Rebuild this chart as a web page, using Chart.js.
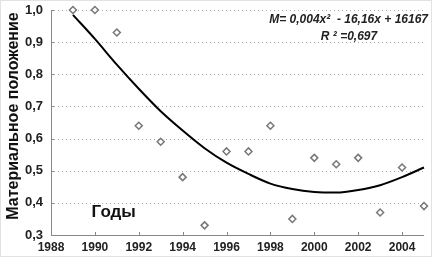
<!DOCTYPE html>
<html>
<head>
<meta charset="utf-8">
<script src="https://cdn.jsdelivr.net/npm/chart.js@4/dist/chart.umd.min.js"></script>
<style>
  html, body { margin: 0; padding: 0; background: #fff; }
  #wrap { width: 430px; height: 255px; border: 1px solid #e2e2e2; }
</style>
</head>
<body>
<div id="wrap"><canvas id="chart" width="430" height="255"></canvas></div>
<script>
// observed values
const years = [1989, 1990, 1991, 1992, 1993, 1994, 1995, 1996, 1997, 1998, 1999, 2000, 2001, 2002, 2003, 2004, 2005];
const values = [1.0, 1.0, 0.93, 0.64, 0.59, 0.48, 0.33, 0.56, 0.56, 0.64, 0.35, 0.54, 0.52, 0.54, 0.37, 0.51, 0.39];
// trend curve
const trendValues = [0.985, 0.91, 0.83, 0.755, 0.685, 0.625, 0.57, 0.525, 0.49, 0.46, 0.443, 0.434, 0.432, 0.44, 0.455, 0.48, 0.51];
const yearTicks = [1988, 1990, 1992, 1994, 1996, 1998, 2000, 2002, 2004];

const eqLine1 = "M= 0,004x\u00B2  - 16,16x + 16167";
const eqLine2 = "R \u00B2 =0,697";
const xLabel = "Годы";
const yLabel = "Материальное положение";

const FONT = "'Liberation Sans', Arial, sans-serif";

// dotted horizontal grid under the marks
const gridPlugin = {
    id: 'dotgrid',
    beforeDatasetsDraw(chart) {
        const ctx = chart.ctx;
        const ys = chart.scales.y;
        const area = chart.chartArea;
        ctx.save();
        ctx.strokeStyle = '#aaa';
        ctx.lineWidth = 1;
        ctx.setLineDash([1, 3]);
        ctx.beginPath();
        ys.ticks.forEach(t => {
            let py = Math.round(ys.getPixelForValue(t.value)) + 0.5;
            ctx.moveTo(area.left + 3, py);
            ctx.lineTo(area.right, py);
        });
        ctx.stroke();
        ctx.restore();
    }
};

// axis lines, inner tick marks and the text notes
const decorPlugin = {
    id: 'decor',
    afterDraw(chart) {
        const ctx = chart.ctx;
        const xs = chart.scales.x, ys = chart.scales.y;
        const area = chart.chartArea;
        ctx.save();
        ctx.strokeStyle = '#888';
        ctx.lineWidth = 1;
        ctx.beginPath();
        ctx.moveTo(area.left + 0.5, area.top);
        ctx.lineTo(area.left + 0.5, area.bottom + 0.5);
        ctx.lineTo(area.right, area.bottom + 0.5);
        ctx.stroke();
        ctx.beginPath();
        yearTicks.forEach(t => {
            let px = Math.round(xs.getPixelForValue(t)) + 0.5;
            ctx.moveTo(px, area.bottom);
            ctx.lineTo(px, area.bottom - 3);
        });
        ys.ticks.forEach(t => {
            let py = Math.round(ys.getPixelForValue(t.value)) + 0.5;
            ctx.moveTo(area.left, py);
            ctx.lineTo(area.left + 3, py);
        });
        ctx.stroke();

        // y axis title, a bit above the middle as in the original
        ctx.fillStyle = '#111';
        ctx.font = "bold 16px " + FONT;
        ctx.textAlign = 'center';
        ctx.textBaseline = 'middle';
        ctx.translate(13, 115);
        ctx.rotate(-Math.PI / 2);
        ctx.fillText(yLabel, 0, 0);
        ctx.setTransform(1, 0, 0, 1, 0, 0);

        ctx.font = "bold 17px " + FONT;
        ctx.textAlign = 'left';
        ctx.fillText(xLabel, xs.getPixelForValue(1989.85), ys.getPixelForValue(0.37));

        ctx.fillStyle = '#222';
        ctx.font = "italic bold 12px " + FONT;
        ctx.textAlign = 'right';
        ctx.fillText(eqLine1, area.right + 4, 19);
        ctx.textAlign = 'center';
        ctx.fillText(eqLine2, area.right - 75, 36);
        ctx.restore();
    }
};

new Chart(document.getElementById('chart'), {
    type: 'scatter',
    data: {
        datasets: [
            {
                data: years.map((y, i) => ({x: y, y: values[i]})),
                pointStyle: 'rectRot',
                pointRadius: 3.5,
                pointBackgroundColor: '#fff',
                pointBorderColor: '#777',
                pointBorderWidth: 1.5,
                showLine: false
            },
            {
                data: years.map((y, i) => ({x: y, y: trendValues[i]})),
                showLine: true,
                borderColor: '#000',
                borderWidth: 2,
                pointRadius: 0,
                tension: 0.4,
                cubicInterpolationMode: 'monotone'
            }
        ]
    },
    options: {
        responsive: false,
        animation: false,
        clip: false,
        layout: {padding: {top: 9, right: 7, left: 0, bottom: 0}},
        plugins: {legend: {display: false}, tooltip: {enabled: false}},
        scales: {
            x: {
                type: 'linear',
                min: 1988,
                max: 2005,
                afterBuildTicks: s => { s.ticks = yearTicks.map(v => ({value: v})); },
                afterFit: s => { s.height = 21; s.paddingLeft = 0; s.paddingRight = 0; },
                grid: {display: false, drawTicks: false},
                border: {display: false},
                ticks: {
                    padding: 5,
                    color: '#222',
                    font: {family: FONT, size: 12, weight: 'bold'},
                    maxRotation: 0,
                    autoSkip: false,
                    callback: v => String(v)
                }
            },
            y: {
                min: 0.3,
                max: 1.0,
                afterFit: s => { s.width = 50; s.paddingTop = 0; s.paddingBottom = 0; },
                grid: {display: false, drawTicks: false},
                border: {display: false},
                ticks: {
                    stepSize: 0.1,
                    padding: 8,
                    color: '#222',
                    font: {family: FONT, size: 13, weight: 'bold'},
                    callback: v => v.toFixed(1).replace('.', ',')
                }
            }
        }
    },
    plugins: [gridPlugin, decorPlugin]
});
</script>
</body>
</html>
